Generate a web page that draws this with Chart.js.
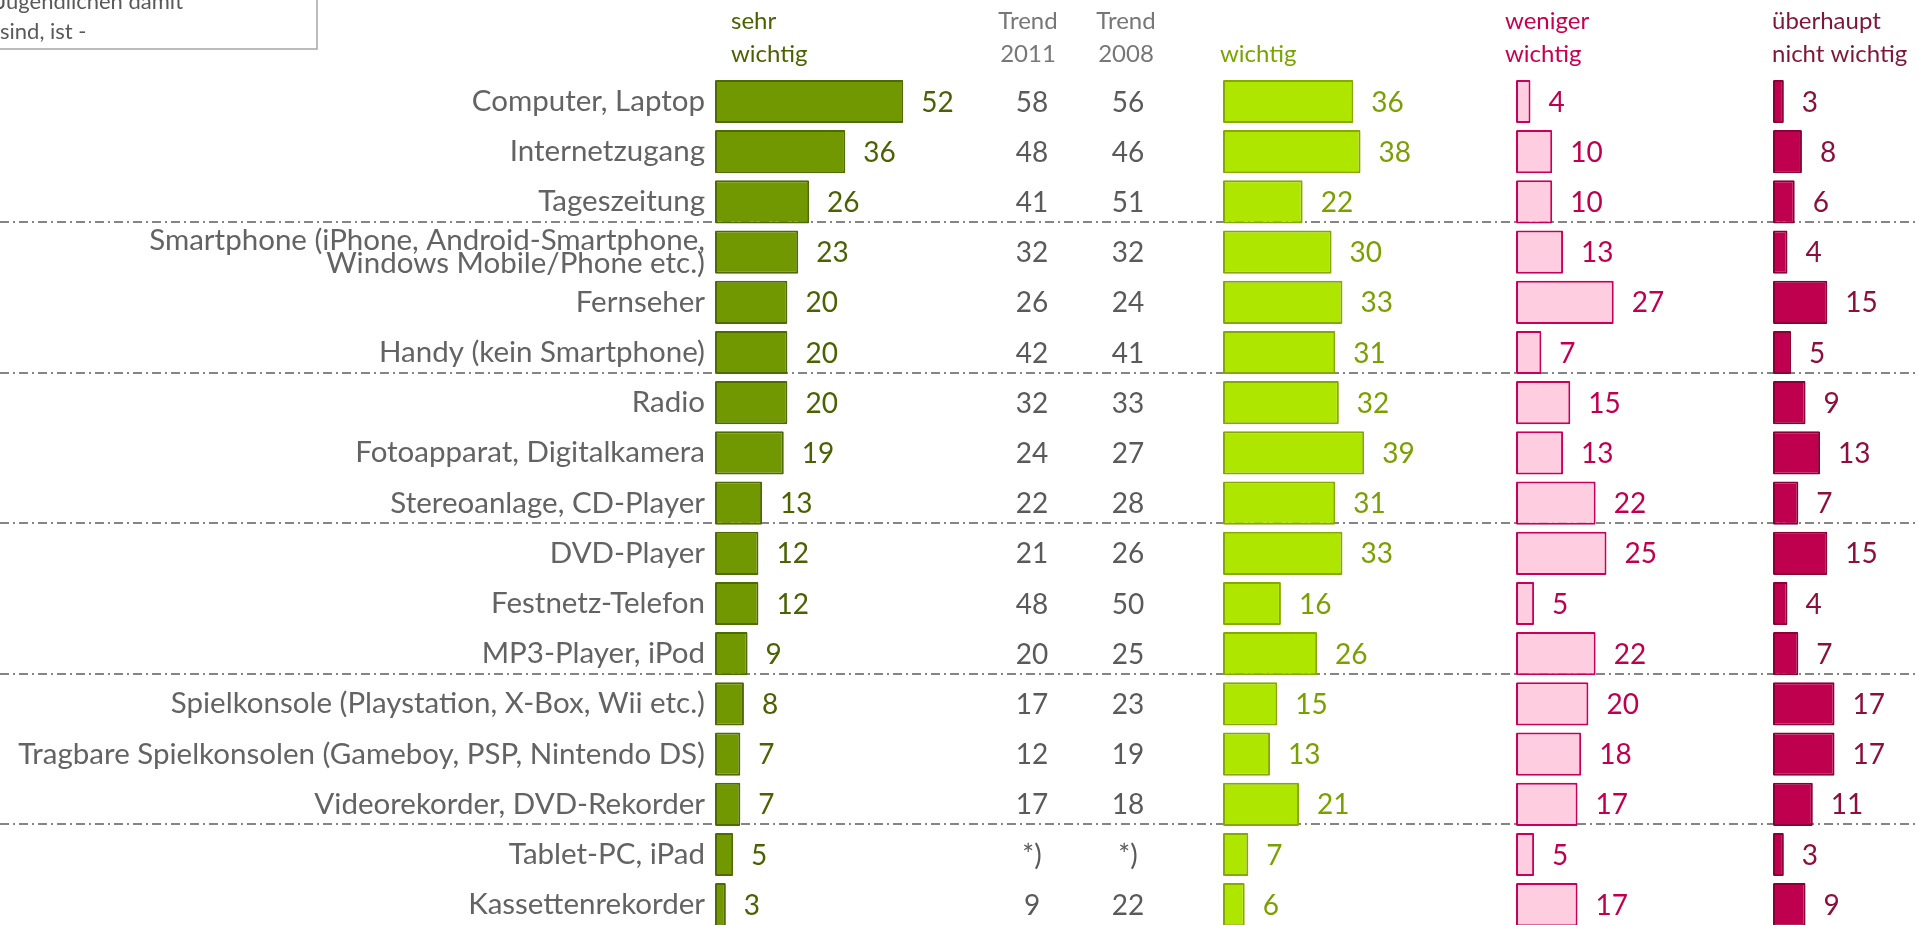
<!DOCTYPE html>
<html>
<head>
<meta charset="utf-8">
<script src="https://cdn.jsdelivr.net/npm/chart.js"></script>
<style>
  html, body { margin: 0; padding: 0; background: #fff; overflow: hidden; }
  #wrap { position: relative; width: 1919px; height: 925px; overflow: hidden; }
</style>
</head>
<body>
<div id="wrap"><canvas id="devicesChart" width="1919" height="930"></canvas></div>
<script>
const categories = [
  'Computer, Laptop',
  'Internetzugang',
  'Tageszeitung',
  ['Smartphone (iPhone, Android-Smartphone,', 'Windows Mobile/Phone etc.)'],
  'Fernseher',
  'Handy (kein Smartphone)',
  'Radio',
  'Fotoapparat, Digitalkamera',
  'Stereoanlage, CD-Player',
  'DVD-Player',
  'Festnetz-Telefon',
  'MP3-Player, iPod',
  'Spielkonsole (Playstation, X-Box, Wii etc.)',
  'Tragbare Spielkonsolen (Gameboy, PSP, Nintendo DS)',
  'Videorekorder, DVD-Rekorder',
  'Tablet-PC, iPad',
  'Kassettenrekorder'
];
const sehrWichtig     = [52, 36, 26, 23, 20, 20, 20, 19, 13, 12, 12, 9, 8, 7, 7, 5, 3];
const trend2011       = [58, 48, 41, 32, 26, 42, 32, 24, 22, 21, 48, 20, 17, 12, 17, null, 9];
const trend2008       = [56, 46, 51, 32, 24, 41, 33, 27, 28, 26, 50, 25, 23, 19, 18, null, 22];
const wichtig         = [36, 38, 22, 30, 33, 31, 32, 39, 31, 33, 16, 26, 15, 13, 21, 7, 6];
const wenigerWichtig  = [4, 10, 10, 13, 27, 7, 15, 13, 22, 25, 5, 22, 20, 18, 17, 5, 17];
const garNichtWichtig = [3, 8, 6, 4, 15, 5, 9, 13, 7, 15, 4, 7, 17, 17, 11, 3, 9];
const groupBreaks = [3, 6, 9, 12, 15];

const FONT = 'Lato, "Liberation Sans", sans-serif';
const PX_PER_POINT = 3.62;
const plotLeft = 715;
const plotRight = 1919;
const panelStarts = [715, 1223, 1516, 1773];

function panelAxis(start) {
  return {
    type: 'linear',
    display: false,
    min: -(start - plotLeft) / PX_PER_POINT,
    max: (plotRight - start) / PX_PER_POINT
  };
}

const panels = [
  { data: sehrWichtig, fill: '#719800', border: '#4e6a00', text: '#4a6200' },
  { data: wichtig, fill: '#aee600', border: '#86a800', text: '#7a9f00' },
  { data: wenigerWichtig, fill: '#ffcde0', border: '#c8005a', text: '#c0004e' },
  { data: garNichtWichtig, fill: '#bf004e', border: '#8a0036', text: '#8c0f3c' }
];

const decor = {
  id: 'decor',
  beforeDatasetsDraw(chart) {
    const ctx = chart.ctx;
    const y = chart.scales.y;
    ctx.save();
    ctx.strokeStyle = '#858585';
    ctx.lineWidth = 2;
    ctx.setLineDash([9, 4, 2, 4]);
    groupBreaks.forEach(i => {
      const yy = Math.round((y.getPixelForValue(i - 1) + y.getPixelForValue(i)) / 2 - 5);
      ctx.beginPath();
      ctx.moveTo(0, yy);
      ctx.lineTo(1919, yy);
      ctx.stroke();
    });
    ctx.restore();
  },
  afterDatasetsDraw(chart) {
    const ctx = chart.ctx;
    const y = chart.scales.y;
    ctx.save();
    ctx.textBaseline = 'middle';

    // value labels next to the bars
    ctx.font = '28px ' + FONT;
    ctx.textAlign = 'left';
    panels.forEach((p, i) => {
      const meta = chart.getDatasetMeta(i);
      ctx.fillStyle = p.text;
      meta.data.forEach((bar, j) => {
        ctx.fillText(String(p.data[j]), bar.x + 18, bar.y + 1);
      });
    });

    // trend columns
    ctx.fillStyle = '#5a5a5a';
    ctx.textAlign = 'center';
    categories.forEach((c, j) => {
      const yy = y.getPixelForValue(j) + 1;
      ctx.fillText(trend2011[j] == null ? '*)' : String(trend2011[j]), 1032, yy);
      ctx.fillText(trend2008[j] == null ? '*)' : String(trend2008[j]), 1128, yy);
    });

    // column headers
    ctx.font = '24px ' + FONT;
    ctx.fillStyle = '#777777';
    ctx.fillText('Trend', 1028, 21);
    ctx.fillText('2011', 1028, 54);
    ctx.fillText('Trend', 1126, 21);
    ctx.fillText('2008', 1126, 54);
    ctx.textAlign = 'left';
    ctx.fillStyle = '#4a6200';
    ctx.fillText('sehr', 731, 21);
    ctx.fillText('wichtig', 731, 54);
    ctx.fillStyle = '#78a300';
    ctx.fillText('wichtig', 1220, 54);
    ctx.fillStyle = '#c8004f';
    ctx.fillText('weniger', 1505, 21);
    ctx.fillText('wichtig', 1505, 54);
    ctx.fillStyle = '#7e1636';
    ctx.fillText('überhaupt', 1772, 21);
    ctx.fillText('nicht wichtig', 1772, 54);

    // question box, cut off at the top-left corner of the picture
    ctx.strokeStyle = '#a6a6a6';
    ctx.lineWidth = 1.5;
    ctx.strokeRect(-2, -2, 319, 51);
    ctx.font = '22px ' + FONT;
    ctx.fillStyle = '#595959';
    ctx.fillText('Jugendlichen damit', -3, 2);
    ctx.fillText('sind, ist -', 0, 32);
    ctx.restore();
  }
};

const scales = {
  y: {
    type: 'category',
    position: 'left',
    grid: { display: false, drawTicks: false },
    border: { display: false },
    ticks: {
      color: '#636363',
      padding: 10,
      autoSkip: false,
      font: { family: FONT, size: 29.5, lineHeight: 0.8 }
    },
    afterFit(scale) {
      scale.width = plotLeft;
      scale.paddingTop = 0;
      scale.paddingBottom = 0;
    }
  }
};
panelStarts.forEach((s, i) => { scales['x' + i] = panelAxis(s); });

new Chart(document.getElementById('devicesChart'), {
  type: 'bar',
  data: {
    labels: categories,
    datasets: panels.map((p, i) => ({
      data: p.data,
      xAxisID: 'x' + i,
      backgroundColor: p.fill,
      borderColor: p.border,
      borderWidth: 2,
      borderSkipped: false,
      borderRadius: 1,
      grouped: false,
      categoryPercentage: 1,
      barPercentage: 0.86
    }))
  },
  options: {
    indexAxis: 'y',
    responsive: false,
    animation: false,
    devicePixelRatio: 1,
    layout: { padding: { left: 0, right: 0, top: 76.4, bottom: 0.2 } },
    plugins: { legend: { display: false }, tooltip: { enabled: false } },
    scales: scales
  },
  plugins: [decor]
});
</script>
</body>
</html>
